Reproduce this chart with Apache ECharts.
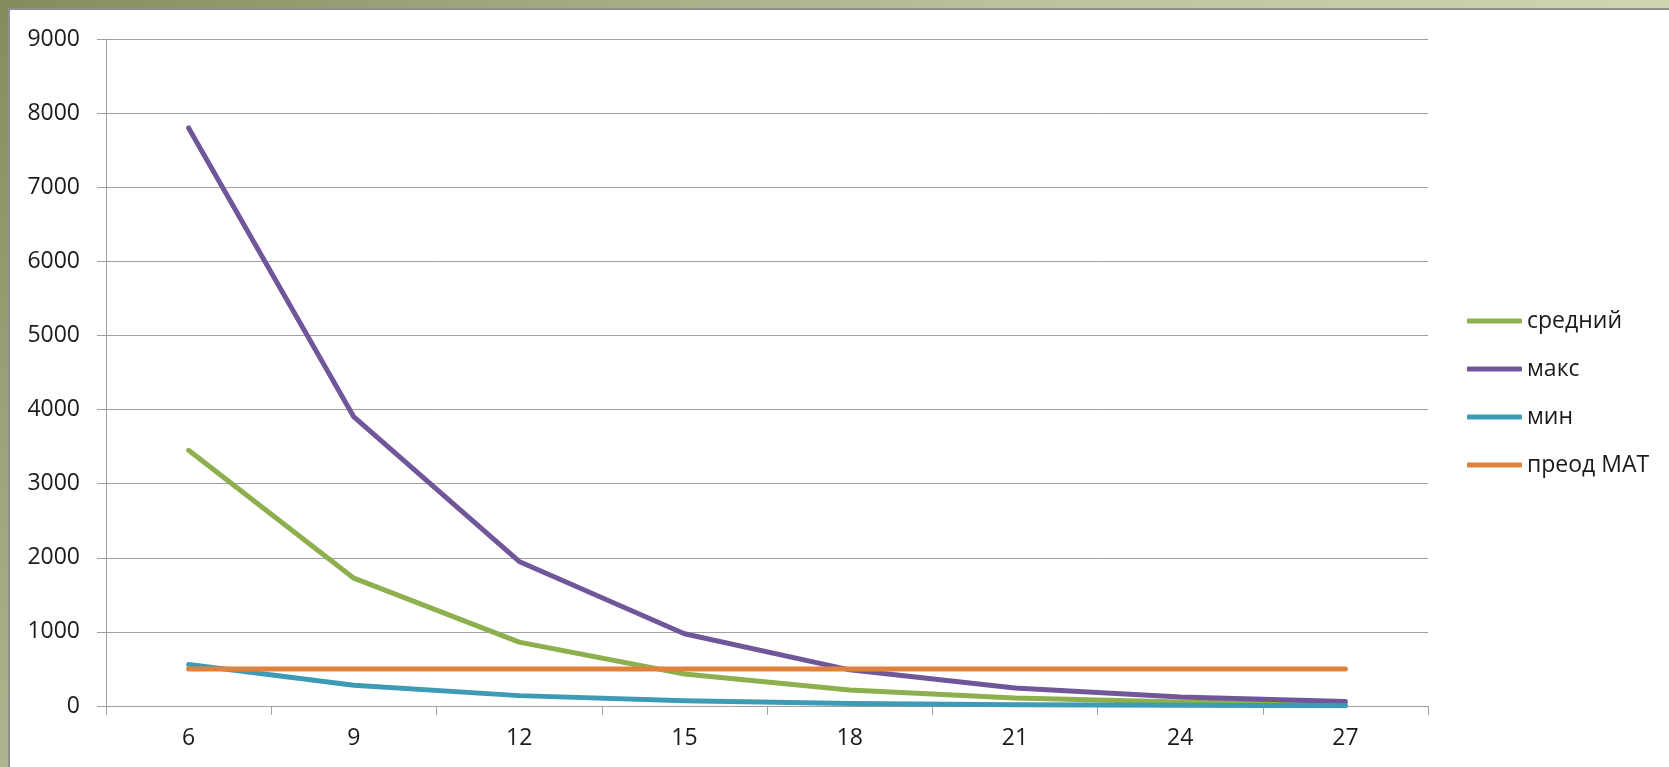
<!DOCTYPE html>
<html>
<head>
<meta charset="utf-8">
<script src="https://cdn.jsdelivr.net/npm/echarts@6/dist/echarts.min.js"></script>
<style>
  html, body { margin: 0; padding: 0; width: 1669px; height: 767px; overflow: hidden; }
  body { background: linear-gradient(135deg, #858b5a 0%, #b9c09a 40%, #e6efc8 100%); position: relative; }
  #paper { position: absolute; left: 8px; top: 8px; width: 1661px; height: 759px; background: #fff; border-left: 2px solid #8f8f8f; border-top: 2px solid #8f8f8f; box-sizing: border-box; }
  #chart { position: absolute; left: 0; top: 0; width: 1669px; height: 767px; }
</style>
</head>
<body>
<div id="paper"></div>
<div id="chart"></div>
<script>
const categories = ['6', '9', '12', '15', '18', '21', '24', '27'];
const seriesNames = ['средний', 'макс', 'мин', 'преод МАТ'];
const avgValues = [3450, 1725, 862, 431, 216, 108, 54, 27];
const maxValues = [7800, 3900, 1950, 975, 488, 244, 122, 61];
const minValues = [560, 280, 140, 70, 35, 17, 9, 4];
const matValues = [500, 500, 500, 500, 500, 500, 500, 500];
const colors = ['#8DAF4E', '#71579A', '#3D9BB5', '#E1823C'];

const chart = echarts.init(document.getElementById('chart'));
const font = '"Open Sans", "Noto Sans", sans-serif';
const dataSets = [avgValues, maxValues, minValues, matValues];

chart.setOption({
  animation: false,
  textStyle: { fontFamily: font },
  grid: { left: 106, right: 241, top: 39, bottom: 61, containLabel: false },
  legend: {
    orient: 'vertical',
    left: 1462,
    top: 304,
    icon: 'roundRect',
    itemWidth: 55,
    itemHeight: 5,
    itemGap: 24,
    textStyle: { fontSize: 23, color: '#1a1a1a', fontFamily: font, lineHeight: 24 },
    data: seriesNames
  },
  xAxis: {
    type: 'category',
    data: categories,
    boundaryGap: true,
    axisLine: { lineStyle: { color: '#a0a0a0', width: 1 } },
    axisTick: { show: true, length: 9, lineStyle: { color: '#a0a0a0' } },
    axisLabel: { fontSize: 23, color: '#1a1a1a', margin: 21, fontFamily: font },
    splitLine: { show: false }
  },
  yAxis: {
    type: 'value',
    min: 0,
    max: 9000,
    interval: 1000,
    axisLine: { show: true, lineStyle: { color: '#a0a0a0', width: 1 } },
    axisTick: { show: true, length: 9, lineStyle: { color: '#a0a0a0' } },
    axisLabel: { fontSize: 23, color: '#1a1a1a', margin: 26, fontFamily: font, formatter: v => String(v) },
    splitLine: { show: true, lineStyle: { color: '#a0a0a0', width: 1 } }
  },
  series: seriesNames.map((name, i) => ({
    name: name,
    type: 'line',
    data: dataSets[i],
    showSymbol: false,
    symbol: 'none',
    lineStyle: { color: colors[i], width: 5, cap: 'round', join: 'round' },
    itemStyle: { color: colors[i] }
  }))
});
</script>
</body>
</html>
